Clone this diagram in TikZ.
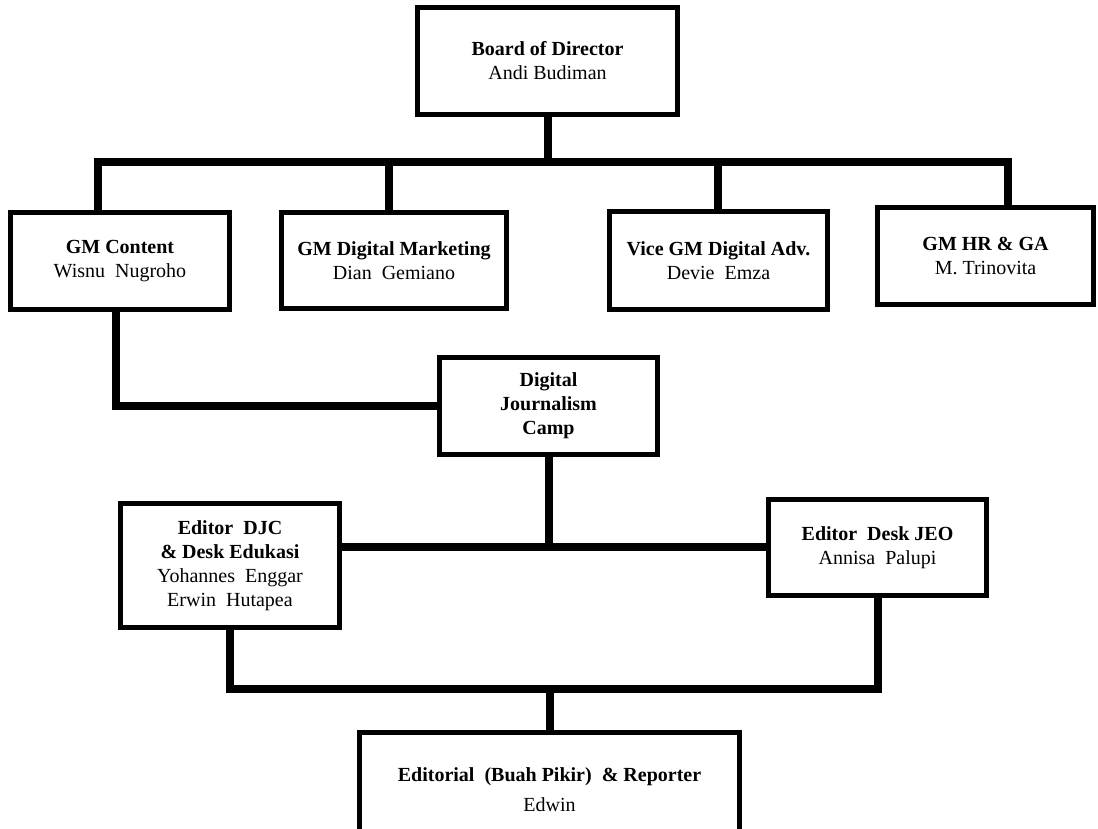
\documentclass[tikz,border=0pt]{standalone}
\usepackage{fontspec}
\setmainfont{Liberation Serif}
\begin{document}
\begin{tikzpicture}[x=1pt,y=-1pt,
  box/.style 2 args={draw, line width=5pt, minimum width=#1, minimum height=#2,
    inner sep=0pt, align=center, font=\fontsize{20}{24}\selectfont},
  conn/.style={line width=8pt, line join=miter}]
\useasboundingbox (0,0) rectangle (1098,828);
\clip (0,0) rectangle (1098,828);

\node[box={260}{107}] (board) at (547.5,61) {\textbf{Board of Director}\\Andi Budiman};
\node[box={219}{97}] (gmc) at (120,261) {\textbf{GM Content}\\Wisnu\ \ Nugroho};
\node[box={225}{96}] (gmdm) at (394,260.5) {\textbf{GM Digital Marketing}\\Dian\ \ Gemiano};
\node[box={218}{98}] (vice) at (718.5,260.5) {\textbf{Vice GM Digital Adv.}\\Devie\ \ Emza};
\node[box={216}{97}] (hr) at (985.5,256) {\textbf{GM HR \& GA}\\M. Trinovita};
\node[box={218}{97}] (djc) at (548.5,406) {\textbf{Digital}\\\textbf{Journalism}\\\textbf{Camp}};
\node[box={219}{124}] (eddjc) at (230,565.5) {\textbf{Editor\ \ DJC}\\\textbf{\& Desk Edukasi}\\Yohannes\ \ Enggar\\Erwin\ \ Hutapea};
\node[box={218}{96}] (jeo) at (877.5,547.5) {\textbf{Editor\ \ Desk JEO}\\Annisa\ \ Palupi};
\node[box={380}{115}] (bottom) at (549.5,790) {\textbf{Editorial\ \ (Buah Pikir)\ \ \& Reporter}\\[6pt]Edwin};

% top bus
\coordinate (busL) at (98,161.5);
\coordinate (busR) at (1008,161.5);
\coordinate (dmx) at (389,0);
\coordinate (vcx) at (718,0);
\draw[conn] (board.south) -- (board.south |- busL);
\draw[conn] (gmc.north -| busL) -- (busL) -- (busR) -- (hr.north -| busR);
\draw[conn] (gmdm.north -| dmx) -- (dmx |- busL);
\draw[conn] (vice.north -| vcx) -- (vcx |- busL);

% GM Content to DJC
\coordinate (gcx) at (116,0);
\draw[conn] (gmc.south -| gcx) |- (djc.west);

% DJC to editors
\coordinate (mid) at (548,547);
\draw[conn] (djc.south) -- (djc.south |- mid);
\draw[conn] (eddjc.east |- mid) -- (jeo.west |- mid);

% editors to bottom
\coordinate (bus2) at (0,689);
\draw[conn] (eddjc.south) -- (eddjc.south |- bus2) -| (jeo.south);
\draw[conn] (bottom.north) -- (bottom.north |- bus2);
\end{tikzpicture}
\end{document}
